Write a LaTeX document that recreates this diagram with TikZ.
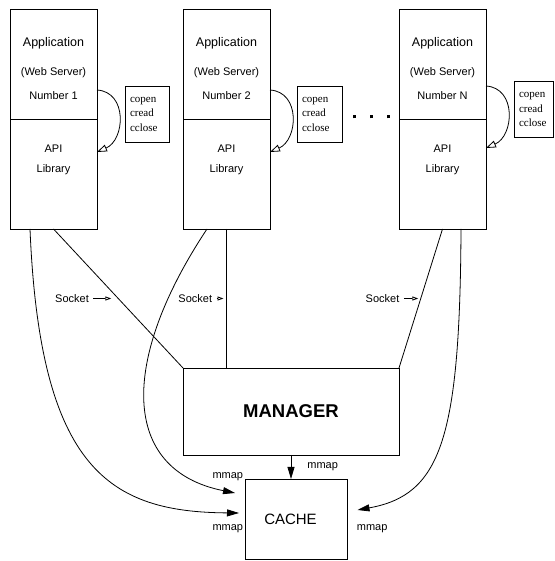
\documentclass[tikz,border=0pt]{standalone}
\usepackage{fontspec}
\setmainfont{Liberation Sans}
\newfontfamily\callfont{Liberation Serif}
\usetikzlibrary{positioning,arrows.meta}

\begin{document}
\begin{tikzpicture}[
    x=1pt, y=1pt,
    font=\fontsize{11}{13}\selectfont,
    line width=0.8pt,
    appbox/.style={
        draw,
        minimum width=87pt,
        minimum height=110pt,
        inner sep=0pt,
        outer sep=0pt
    },
    apptext/.style={align=center, inner sep=0pt},
    callbox/.style={
        draw,
        minimum height=56pt,
        inner sep=5pt,
        outer sep=0pt,
        align=left,
        font=\callfont\fontsize{11}{14.5}\selectfont
    },
    mgrbox/.style={
        draw,
        minimum width=216pt,
        minimum height=87pt,
        outer sep=0pt,
        font=\fontsize{18.5}{22}\selectfont\bfseries
    },
    cachebox/.style={
        draw,
        minimum width=102pt,
        minimum height=80pt,
        outer sep=0pt,
        font=\fontsize{15}{18}\selectfont
    },
    link/.style={line width=0.8pt},
    callarrow/.style={-{Triangle[open, length=10pt, width=7pt]}},
    sockarrow/.style={-{Triangle[open, length=6pt, width=4pt]}},
    maparrow/.style={-{Triangle[length=12pt, width=7pt]}},
    note/.style={inner sep=1pt}
]
\useasboundingbox (0,0) rectangle (554,561);

% the application processes, upper part and library part
\node[appbox, anchor=north west] (app1) at (10,552) {};
\node[appbox, right=86pt of app1] (app2) {};
\node[appbox, right=129pt of app2] (appN) {};

\node[appbox, below=0pt of app1] (lib1) {};
\node[appbox, below=0pt of app2] (lib2) {};
\node[appbox, below=0pt of appN] (libN) {};

% base of a multi-line node is its last line
\node[apptext, anchor=base] (app1txt) at ([yshift=-91pt]app1.north)
    {{\fontsize{12.5}{15}\selectfont Application}\\[16pt](Web Server)\\[11pt]Number 1};
\node[apptext, anchor=base] (app2txt) at ([yshift=-91pt]app2.north)
    {{\fontsize{12.5}{15}\selectfont Application}\\[16pt](Web Server)\\[11pt]Number 2};
\node[apptext, anchor=base] (appNtxt) at ([yshift=-91pt]appN.north)
    {{\fontsize{12.5}{15}\selectfont Application}\\[16pt](Web Server)\\[11pt]Number N};

\node[apptext, anchor=base] (lib1txt) at ([yshift=-54pt]lib1.north) {API\\[7pt]Library};
\node[apptext, anchor=base] (lib2txt) at ([yshift=-54pt]lib2.north) {API\\[7pt]Library};
\node[apptext, anchor=base] (libNtxt) at ([yshift=-54pt]libN.north) {API\\[7pt]Library};

% calls handed to the library
\node[callbox, text width=34pt, right=28pt of app1.south east, yshift=5pt] (calls1)
    {copen\\cread\\cclose};
\node[callbox, text width=35pt, right=27pt of app2.south east, yshift=5pt] (calls2)
    {copen\\cread\\cclose};
\node[callbox, text width=29pt, right=28pt of appN.south east, yshift=9.5pt] (callsN)
    {copen\\cread\\cclose};

\draw[callarrow] ([yshift=-26pt]app1.east) .. controls +(31,-2) and +(28,12) .. ([yshift=22pt]lib1.east);
\draw[callarrow] ([yshift=-26pt]app2.east) .. controls +(31,-2) and +(28,12) .. ([yshift=22pt]lib2.east);
\draw[callarrow] ([yshift=-22pt]appN.east) .. controls +(31,-2) and +(28,12) .. ([yshift=26pt]libN.east);

\node[inner sep=0pt, left=8.5pt of appN.south west, yshift=2pt] (dots)
    {\rule{3pt}{3pt}\hspace{14pt}\rule{3pt}{3pt}\hspace{14pt}\rule{3pt}{3pt}};

% manager and cache
\node[mgrbox, anchor=north west] (mgr) at ([yshift=-139pt]lib2.south west) {MANAGER};
\node[cachebox, anchor=north west] (cache) at ([xshift=62.5pt, yshift=-24pt]mgr.south west)
    {CACHE\hspace*{12pt}};

% socket connections
\draw[link] (lib1.south) -- coordinate (s1) (mgr.north west);
\draw[link] (lib2.south) -- coordinate (s2) (lib2.south |- mgr.north);
\draw[link] (libN.south) -- coordinate (s3) (mgr.north east);

\node[note, anchor=east] (sock1) at ([xshift=-28pt]s1) {Socket};
\node[note, anchor=east] (sock2) at ([xshift=-13pt]s2) {Socket};
\node[note, anchor=east] (sock3) at ([xshift=-20pt]s3) {Socket};
\draw[sockarrow] ([xshift=3pt]sock1.east) -- ([xshift=-7pt]s1);
\draw[sockarrow] ([xshift=3pt]sock2.east) -- ([xshift=-3pt]s2);
\draw[sockarrow] ([xshift=3pt]sock3.east) -- ([xshift=-2.5pt]s3);

% shared memory mappings
\draw[maparrow] (mgr.south) -- (mgr.south |- cache.north)
    node[note, midway, right=15pt] (mm0) {mmap};
\draw[maparrow] ([xshift=20pt]lib1.south west) .. controls +(10,-241) and +(-129,1) ..
    ([xshift=-6.5pt, yshift=6pt]cache.west);
\draw[maparrow] ([xshift=24pt]lib2.south west) .. controls +(-87,-131) and +(-115,23) ..
    ([xshift=-10.5pt, yshift=-14pt]cache.north west);
\draw[maparrow] ([xshift=-25pt]libN.south east) .. controls +(-1,-211) and +(83,15) ..
    ([xshift=10pt, yshift=9pt]cache.east);

\node[note, anchor=east] (mm1) at ([xshift=-1pt, yshift=-10pt]cache.west) {mmap};
\node[note, anchor=east] (mm2) at ([xshift=-1pt, yshift=2pt]cache.north west) {mmap};
\node[note, anchor=west] (mm3) at ([xshift=8pt, yshift=-10pt]cache.east) {mmap};

\end{tikzpicture}
\end{document}
